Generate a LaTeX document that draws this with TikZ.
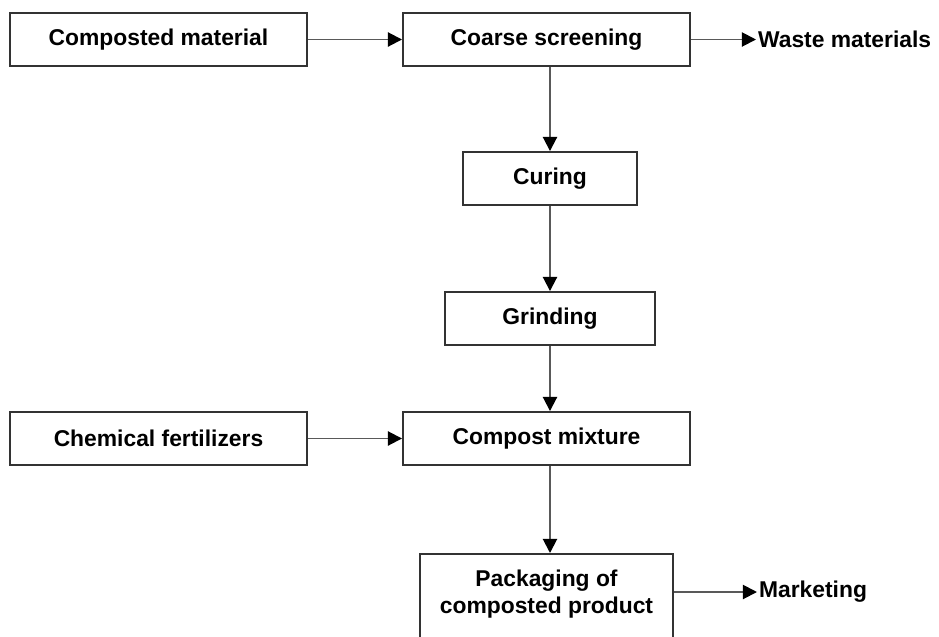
\documentclass[tikz,border=0pt]{standalone}
\usepackage{fontspec}
\setmainfont{Liberation Sans}
\usetikzlibrary{arrows.meta}

\begin{document}
\begin{tikzpicture}
      \tikzstyle{STY1} = [draw=black!80, line width=1.1pt, rectangle, minimum height=1.06cm, inner sep=2pt, font=\fontsize{13}{15.4}\selectfont\bfseries]
      \tikzstyle{STY2} = [draw=black!65, line width=1.1pt, -{Triangle[length=8pt, width=8pt, color=black, fill=black]}]
      \tikzstyle{STY3} = [inner sep=1pt, anchor=west, font=\fontsize{13}{15.4}\selectfont\bfseries]

      \useasboundingbox (0,0) rectangle (18.78,-12.72);

      %%%%% VERTEX

      \node[STY1, minimum width=5.94cm](v0) at (3.17, -0.79) {Composted material};
      \node[STY1, minimum width=5.74cm](v1) at (10.93, -0.79) {Coarse screening};
      \node[STY3](v2) at (15.12, -0.79) {Waste materials};

      \node[STY1, minimum width=3.48cm](v3) at (11.0, -3.57) {Curing};

      \node[STY1, minimum width=4.2cm](v4) at (11.0, -6.37) {Grinding};

      \node[STY1, minimum width=5.94cm](v5) at (3.17, -8.77) {Chemical fertilizers};
      \node[STY1, minimum width=5.74cm](v6) at (10.93, -8.77) {Compost mixture};

      \node[STY1, minimum width=5.06cm, anchor=north, align=center, inner ysep=9pt, text depth=1.3cm](v7) at (10.93, -11.06) {Packaging of\\composted product};
      \node[STY3](v8) at (15.14, -11.84) {Marketing};

      %%%%% EDGES
      \draw[STY2]  (v0) -- (v1);
      \draw[STY2]  (v1) -- (v2);
      \draw[STY2]  (v1.south -| v3.north) -- (v3);
      \draw[STY2]  (v3) -- (v4);
      \draw[STY2]  (v4.south) -- (v6.north -| v4.south);
      \draw[STY2]  (v5) -- (v6);
      \draw[STY2]  (v6.south -| v4.south) -- (v7.north -| v4.south);
      \draw[STY2]  (v8.west -| v7.east) -- (v8);
    \end{tikzpicture}
\end{document}
